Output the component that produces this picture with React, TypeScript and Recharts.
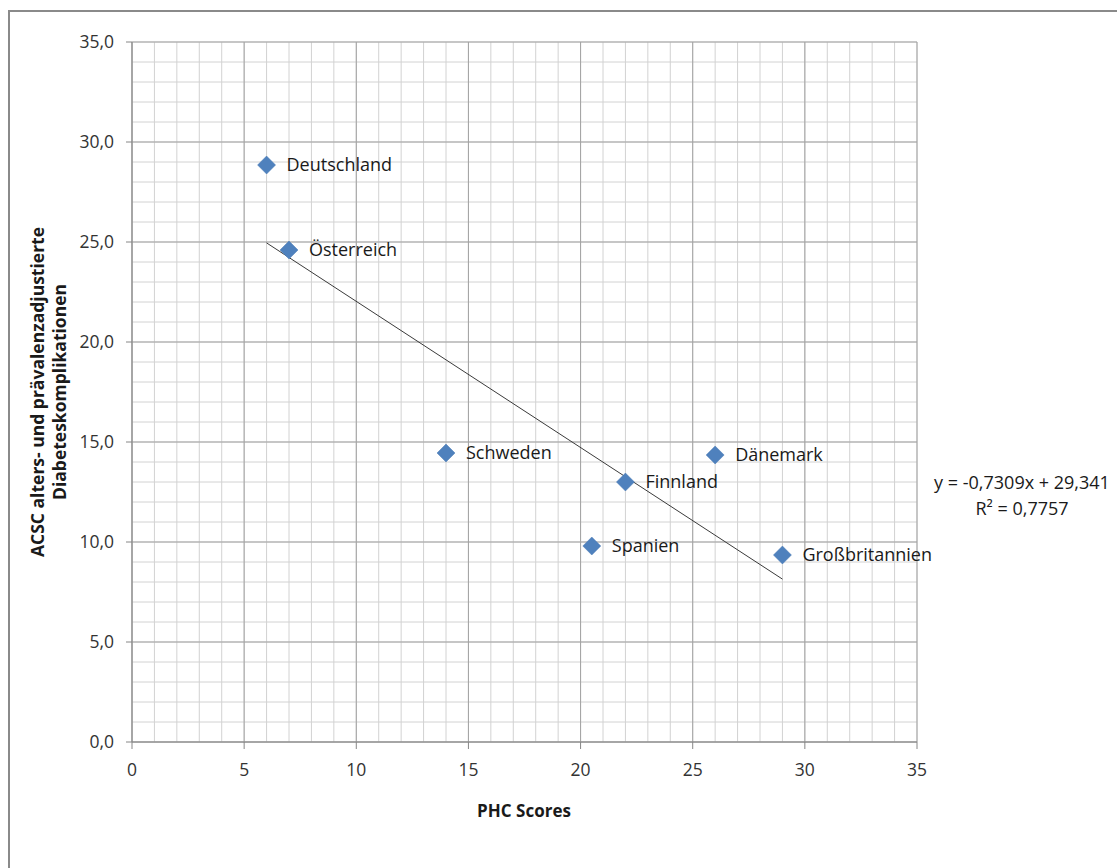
import React from "react";
import {
  ComposedChart,
  Scatter,
  XAxis,
  YAxis,
  CartesianGrid,
  ReferenceLine,
  LabelList,
} from "recharts";

const countries = ["Deutschland", "Österreich", "Schweden", "Finnland", "Dänemark", "Spanien", "Großbritannien"];
const phcScores = [6, 7, 14, 22, 26, 20.5, 29];
const acscValues = [28.85, 24.6, 14.45, 13.0, 14.35, 9.8, 9.35];

const majorTicks = [0, 5, 10, 15, 20, 25, 30, 35];
const minorTicks = [
  0, 1, 2, 3, 4, 5, 6, 7, 8, 9, 10, 11, 12, 13, 14, 15, 16, 17, 18, 19, 20, 21, 22, 23, 24, 25, 26, 27,
  28, 29, 30, 31, 32, 33, 34, 35,
];

const trendSlope = -0.7309;
const trendIntercept = 29.341;
const trendXRange = [6, 29];
const trendLabel = "y = -0,7309x + 29,341";
const r2Label = "R² = 0,7757";

const data = countries.map((name, i) => ({ name, x: phcScores[i], y: acscValues[i] }));
const trendSegment = trendXRange.map((x) => ({ x, y: trendSlope * x + trendIntercept }));

const FONT = "'Open Sans', 'Noto Sans', sans-serif";

const Diamond = (props: any) => {
  const { cx, cy } = props;
  if (cx == null || cy == null) return null;
  const r = 9;
  return (
    <polygon
      points={`${cx},${cy - r} ${cx + r},${cy} ${cx},${cy + r} ${cx - r},${cy}`}
      fill="#4f81bd"
      stroke="#4a7ab5"
      strokeWidth={0.5}
    />
  );
};

const PointLabel = (props: any) => {
  const { x, y, width, height, value } = props;
  const cx = x + (width || 0) / 2;
  const cy = y + (height || 0) / 2;
  return (
    <text
      x={cx + 20}
      y={cy}
      dy="0.36em"
      fontSize={18}
      fontFamily={FONT}
      fill="#1a1a1a"
    >
      {value}
    </text>
  );
};

const fmtY = (v: number) => v.toFixed(1).replace(".", ",");

export default function App() {
  return (
    <div
      style={{
        position: "absolute",
        left: 0,
        top: 0,
        width: 1117,
        height: 868,
        overflow: "hidden",
        background: "#fff",
        fontFamily: FONT,
      }}
    >
      <div
        style={{
          position: "absolute",
          left: 8,
          top: 10,
          width: 2000,
          height: 2000,
          borderLeft: "2.5px solid #8a8a8a",
          borderTop: "2.5px solid #8a8a8a",
        }}
      />
      <div style={{ position: "absolute", left: 0, top: 0 }}>
        <ComposedChart
          width={1117}
          height={868}
          margin={{ top: 42, right: 200, bottom: 86, left: 62 }}
        >
          <CartesianGrid
            stroke="#d2d2d2"
            strokeWidth={1}
            verticalValues={minorTicks}
            horizontalValues={minorTicks}
          />
          <CartesianGrid stroke="#a3a3a3" strokeWidth={1} />
          <XAxis
            type="number"
            dataKey="x"
            domain={[0, 35]}
            ticks={majorTicks}
            interval={0}
            height={40}
            tickSize={7}
            tickMargin={15}
            axisLine={{ stroke: "#868686" }}
            tickLine={{ stroke: "#868686" }}
            tick={{ fontSize: 17.5, fontFamily: FONT, fill: "#333" }}
          />
          <YAxis
            type="number"
            dataKey="y"
            domain={[0, 35]}
            ticks={majorTicks}
            interval={0}
            width={70}
            tickSize={6}
            tickMargin={12}
            tickFormatter={fmtY}
            axisLine={{ stroke: "#868686" }}
            tickLine={{ stroke: "#868686" }}
            tick={{ fontSize: 17.5, fontFamily: FONT, fill: "#333" }}
          />
          <ReferenceLine
            segment={trendSegment}
            stroke="#3a3a3a"
            strokeWidth={1}
            ifOverflow="visible"
          />
          <Scatter data={data} shape={<Diamond />} isAnimationActive={false}>
            <LabelList dataKey="name" content={<PointLabel />} />
          </Scatter>
        </ComposedChart>
      </div>
      {/* Y axis title */}
      <div
        style={{
          position: "absolute",
          left: 48,
          top: 392,
          transform: "translate(-50%, -50%) rotate(-90deg)",
          whiteSpace: "nowrap",
          textAlign: "center",
          fontWeight: 700,
          fontSize: 17.5,
          lineHeight: "22px",
          color: "#1a1a1a",
        }}
      >
        ACSC alters- und prävalenzadjustierte
        <br />
        Diabeteskomplikationen
      </div>
      {/* X axis title */}
      <div
        style={{
          position: "absolute",
          left: 524,
          top: 810,
          transform: "translate(-50%, -50%)",
          whiteSpace: "nowrap",
          fontWeight: 700,
          fontSize: 17,
          color: "#1a1a1a",
        }}
      >
        PHC Scores
      </div>
      {/* Trend equation */}
      <div
        style={{
          position: "absolute",
          left: 1022,
          top: 495,
          transform: "translate(-50%, -50%)",
          whiteSpace: "nowrap",
          textAlign: "center",
          fontSize: 18,
          lineHeight: "26px",
          color: "#1a1a1a",
        }}
      >
        {trendLabel}
        <br />
        {r2Label}
      </div>
    </div>
  );
}
